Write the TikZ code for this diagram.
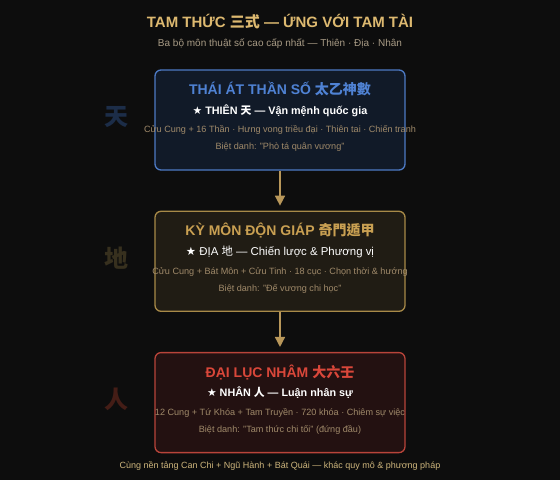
\documentclass[tikz,border=0pt]{standalone}
\usepackage{fontspec}
\setmainfont{Liberation Sans}
\newfontfamily\cjk{Noto Sans CJK TC}
\newfontfamily\symf{DejaVu Sans}
\usetikzlibrary{arrows.meta,calc,positioning}

\definecolor{bgdark}{HTML}{0D0D0D}
\definecolor{headgold}{HTML}{DDB970}
\definecolor{subgray}{HTML}{A89B85}
\definecolor{detailtan}{HTML}{A08A6A}
\definecolor{footgold}{HTML}{CDB57C}
\definecolor{tianline}{HTML}{4D7AC4}
\definecolor{tianfill}{HTML}{111A28}
\definecolor{tiantext}{HTML}{4F82D4}
\definecolor{tiandim}{HTML}{1C2D48}
\definecolor{diline}{HTML}{A88A48}
\definecolor{difill}{HTML}{201C14}
\definecolor{ditext}{HTML}{C9A052}
\definecolor{didim}{HTML}{37301E}
\definecolor{renline}{HTML}{B8443A}
\definecolor{renfill}{HTML}{231111}
\definecolor{rentext}{HTML}{D9473A}
\definecolor{rendim}{HTML}{441D16}
\definecolor{flowgold}{HTML}{B8975A}

\begin{document}
\begin{tikzpicture}[x=1pt,y=-1pt,>=Triangle,node distance=40pt,
    school/.style={draw,rounded corners=6pt,line width=1.3pt,minimum width=250pt,minimum height=100pt},
    schooltitle/.style={font=\bfseries\fontsize{14}{16}\selectfont},
    realm/.style={text=white,font=\bfseries\fontsize{10.8}{13}\selectfont},
    detail/.style={text=detailtan,font=\fontsize{9.1}{10}\selectfont},
    sidechar/.style={font=\cjk\bfseries\fontsize{24}{26}\selectfont,yshift=3pt},
    flow/.style={->,draw=flowgold,line width=1.5pt,shorten >=5pt,
      arrows={-Triangle[length=10pt,width=10pt]}}]
  \fill[bgdark] (0,0) rectangle (560,480);
  \useasboundingbox (0,0) rectangle (560,480);

  \node[text=headgold,font=\bfseries\fontsize{15}{17}\selectfont] (head) at (280,22)
    {TAM THỨC {\cjk 三式} — ỨNG VỚI TAM TÀI};
  \node[text=subgray,font=\fontsize{10}{12}\selectfont] (sub) at (280,44)
    {Ba bộ môn thuật số cao cấp nhất — Thiên · Địa · Nhân};

  % three schools
  \node[school,draw=tianline,fill=tianfill] (thaiat) at (280,120) {};
  \node[school,draw=diline,fill=difill] (kymon) [below=of thaiat] {};
  \node[school,draw=renline,fill=renfill] (dailuc) [below=of kymon] {};

  \node[schooltitle,text=tiantext] (thaiat-t) at ($(thaiat.north)+(0,20)$) {THÁI ÁT THẦN SỐ {\cjk 太乙神數}};
  \node[realm] (thaiat-r) at ($(thaiat.north)+(0,41)$) {{\symf ★} THIÊN {\cjk 天} — Vận mệnh quốc gia};
  \node[detail] (thaiat-d) at ($(thaiat.north)+(0,61)$) {Cửu Cung + 16 Thần · Hưng vong triều đại · Thiên tai · Chiến tranh};
  \node[detail] (thaiat-n) at ($(thaiat.north)+(0,78)$) {Biệt danh: "Phò tá quân vương"};

  \node[schooltitle,text=ditext] (kymon-t) at ($(kymon.north)+(0,20)$) {KỲ MÔN ĐỘN GIÁP {\cjk 奇門遁甲}};
  \node[realm,font=\fontsize{11.4}{13}\selectfont] (kymon-r) at ($(kymon.north)+(0,41)$) {{\symf ★} ĐỊA {\cjk 地} — Chiến lược \& Phương vị};
  \node[detail] (kymon-d) at ($(kymon.north)+(0,61)$) {Cửu Cung + Bát Môn + Cửu Tinh · 18 cục · Chọn thời \& hướng};
  \node[detail] (kymon-n) at ($(kymon.north)+(0,78)$) {Biệt danh: "Đế vương chi học"};

  \node[schooltitle,text=rentext] (dailuc-t) at ($(dailuc.north)+(0,21)$) {ĐẠI LỤC NHÂM {\cjk 大六壬}};
  \node[realm] (dailuc-r) at ($(dailuc.north)+(0,41)$) {{\symf ★} NHÂN {\cjk 人} — Luận nhân sự};
  \node[detail] (dailuc-d) at ($(dailuc.north)+(0,61)$) {12 Cung + Tứ Khóa + Tam Truyền · 720 khóa · Chiêm sự việc};
  \node[detail] (dailuc-n) at ($(dailuc.north)+(0,78)$) {Biệt danh: "Tam thức chi tối" (đứng đầu)};

  % heaven, earth, man
  \node[sidechar,text=tiandim] (tian) [left=22pt of thaiat] {天};
  \node[sidechar,text=didim] (di) [left=22pt of kymon] {地};
  \node[sidechar,text=rendim] (ren) [left=22pt of dailuc] {人};

  \draw[flow] (thaiat) -- (kymon);
  \draw[flow] (kymon) -- (dailuc);

  \node[text=footgold,font=\fontsize{9}{10}\selectfont] (foot) at (280,466)
    {Cùng nền tảng Can Chi + Ngũ Hành + Bát Quái — khác quy mô \& phương pháp};
\end{tikzpicture}
\end{document}
